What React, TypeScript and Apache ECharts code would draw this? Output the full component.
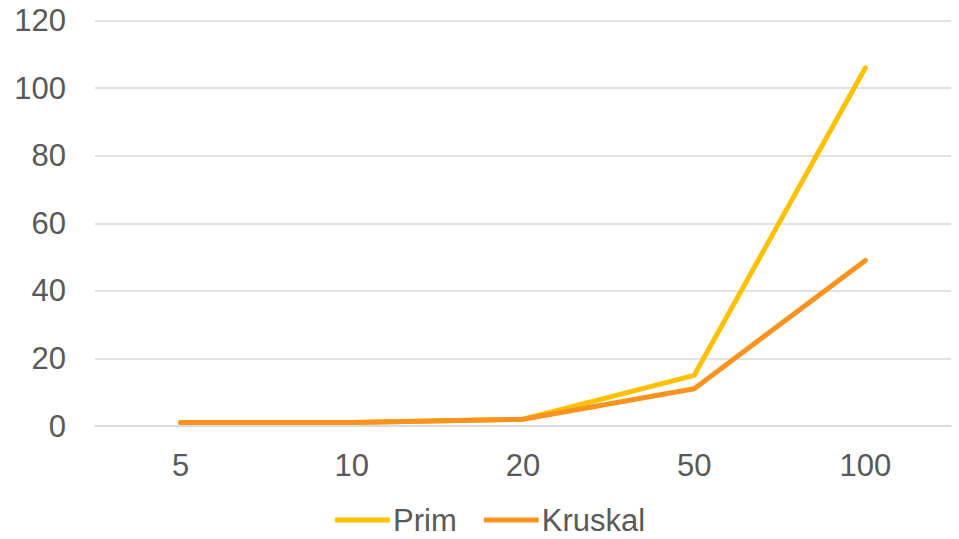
import React, { useEffect, useRef } from "react";
import * as echarts from "echarts";

const categories = ["5", "10", "20", "50", "100"];
const primValues = [1, 1, 2, 15, 106];
const kruskalValues = [1, 1, 2, 11, 49];

export default function App() {
  const ref = useRef<HTMLDivElement>(null);
  useEffect(() => {
    if (!ref.current) return;
    const chart = echarts.init(ref.current, undefined, { renderer: "svg" });
    const font = "'Liberation Sans', Arial, sans-serif";
    chart.setOption({
      animation: false,
      textStyle: { fontFamily: font },
      grid: { left: 95, right: 8, top: 20.5, bottom: 113, containLabel: false },
      legend: {
        top: 503,
        left: 330,
        padding: [0, 5, 0, 5],
        itemWidth: 55,
        itemHeight: 5,
        itemGap: 27,
        icon: "roundRect",
        textStyle: { fontSize: 31, color: "#595959", fontFamily: font, padding: [0, 0, 0, -2], lineHeight: 34 },
        data: ["Prim", "Kruskal"],
      },
      xAxis: {
        type: "category",
        data: categories,
        boundaryGap: true,
        axisLine: { show: true, lineStyle: { color: "#D9D9D9", width: 1.5 } },
        axisTick: { show: false },
        axisLabel: { fontSize: 31, color: "#595959", margin: 24, fontFamily: font },
      },
      yAxis: {
        type: "value",
        min: 0,
        max: 120,
        interval: 20,
        axisLine: { show: false },
        axisTick: { show: false },
        splitLine: { lineStyle: { color: "#D9D9D9", width: 1.5 } },
        axisLabel: { fontSize: 31, color: "#595959", margin: 29, fontFamily: font },
      },
      series: [
        {
          name: "Prim",
          type: "line",
          data: primValues,
          symbol: "none",
          color: "#FFC000",
          lineStyle: { width: 5, color: "#FFC000", cap: "round", join: "round" },
        },
        {
          name: "Kruskal",
          type: "line",
          data: kruskalValues,
          symbol: "none",
          color: "#F7931E",
          lineStyle: { width: 5, color: "#F7931E", cap: "round", join: "round" },
        },
      ],
    });
    return () => chart.dispose();
  }, []);
  return (
    <div
      ref={ref}
      style={{ position: "fixed", left: 0, top: 0, width: 959, height: 539, background: "#fff" }}
    />
  );
}
